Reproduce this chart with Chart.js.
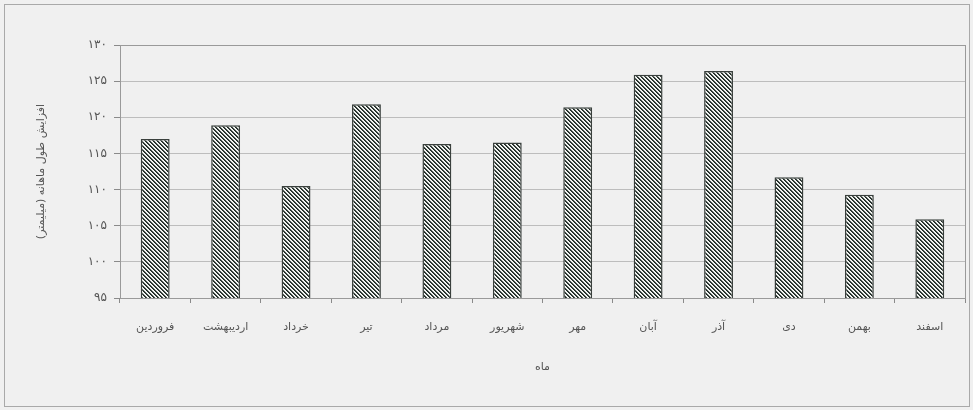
<!DOCTYPE html>
<html>
<head>
<meta charset="utf-8">
<script src="https://cdn.jsdelivr.net/npm/chart.js@4"></script>
<style>
  html, body { margin: 0; padding: 0; background: #f0f0f0; }
  #wrap { position: relative; width: 973px; height: 410px; overflow: hidden; }
  #frame { position: absolute; left: 4px; top: 4px; width: 966px; height: 403px;
           border: 1px solid #a9a9a9; box-sizing: border-box; }
  canvas { position: absolute; left: 0; top: 0; }
</style>
</head>
<body>
<div id="wrap">
  <div id="frame"></div>
  <canvas id="chart" width="973" height="410" dir="rtl"></canvas>
</div>
<script>
// Persian calendar months
const months = ['فروردین', 'اردیبهشت', 'خرداد', 'تیر', 'مرداد', 'شهریور',
                'مهر', 'آبان', 'آذر', 'دی', 'بهمن', 'اسفند'];
// Monthly values (mm)
const values = [117.0, 118.9, 110.5, 121.8, 116.3, 116.5,
                121.4, 125.9, 126.4, 111.7, 109.3, 105.9];
// Value axis range and step
const yMin = 95;
const yMax = 130;
const yStep = 5;
const xTitle = 'ماه';
const yTitle = 'افزایش طول ماهانه (میلیمتر)';

const faDigits = '۰۱۲۳۴۵۶۷۸۹';
const toFa = n => String(n).replace(/[0-9]/g, d => faDigits[+d]);

// Diagonal hatch fill for the bars (pixel-exact "\" stripes)
function hatch() {
  const p = 4;
  const c = document.createElement('canvas');
  c.width = p; c.height = p;
  const g = c.getContext('2d');
  for (let y = 0; y < p; y++) {
    for (let x = 0; x < p; x++) {
      const k = ((x - y) % p + p) % p;
      g.fillStyle = k === 0 ? '#1f2925' : k === 1 ? '#3d4843' : k === 2 ? '#e8ebe8' : '#fafaf8';
      g.fillRect(x, y, 1, 1);
    }
  }
  return g.createPattern(c, 'repeat');
}

const font = { family: "'DejaVu Sans', sans-serif", size: 11 };
const tickFontY = { family: "'DejaVu Sans', sans-serif", size: 12 };

// Thin frame around the plotting area
const plotFrame = {
  id: 'plotFrame',
  afterDraw(chart) {
    const { ctx, chartArea: a } = chart;
    ctx.save();
    ctx.strokeStyle = '#9a9a9a';
    ctx.lineWidth = 1;
    ctx.strokeRect(Math.round(a.left) + 0.5, Math.round(a.top) + 0.5,
                   Math.round(a.right - a.left), Math.round(a.bottom - a.top));
    ctx.restore();
  }
};

new Chart(document.getElementById('chart'), {
  type: 'bar',
  data: {
    labels: months,
    datasets: [{
      data: values,
      backgroundColor: hatch(),
      borderColor: '#3a403d',
      borderWidth: 1.5,
      borderSkipped: false,
      barPercentage: 0.41,
      categoryPercentage: 1
    }]
  },
  options: {
    responsive: false,
    animation: false,
    layout: { padding: { left: 0, top: 45, right: 8, bottom: 0 } },
    plugins: { legend: { display: false }, tooltip: { enabled: false } },
    scales: {
      x: {
        afterFit: s => { s.height = 112; },
        grid: { display: true, drawOnChartArea: false, drawTicks: true,
                tickLength: 5, offset: true, color: '#8a8a8a' },
        border: { display: true, color: '#8a8a8a' },
        ticks: { color: '#555', font, padding: 18, maxRotation: 0, autoSkip: false },
        title: { display: true, text: xTitle, color: '#555', font,
                 padding: { top: 0, bottom: 36 } }
      },
      y: {
        min: yMin, max: yMax,
        afterFit: s => { s.width = 120; },
        grid: { color: '#bdbdbd', tickLength: 6, tickColor: '#8a8a8a' },
        border: { display: true, color: '#8a8a8a' },
        ticks: { stepSize: yStep, color: '#555', font: tickFontY, padding: 7,
                 callback: v => toFa(v) },
        title: { display: true, text: yTitle, color: '#555', font,
                 padding: { top: 35, bottom: 0 } }
      }
    }
  },
  plugins: [plotFrame]
});
</script>
</body>
</html>
